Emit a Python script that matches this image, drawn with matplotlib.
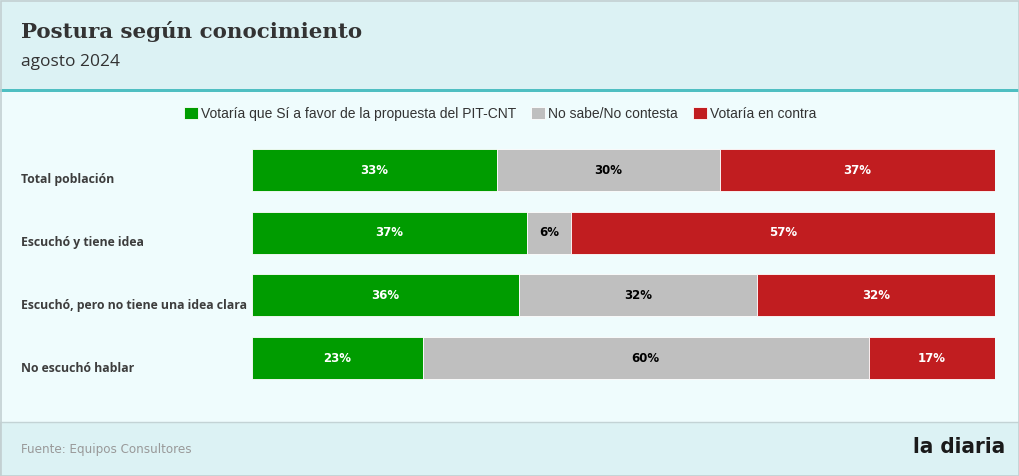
"""Postura según conocimiento - stacked horizontal bars."""

import matplotlib.pyplot as plt
from matplotlib.patches import Rectangle

categories = [
    "Total población",
    "Escuchó y tiene idea",
    "Escuchó, pero no tiene una idea clara",
    "No escuchó hablar",
]
series_names = [
    "Votaría que Sí a favor de la propuesta del PIT-CNT",
    "No sabe/No contesta",
    "Votaría en contra",
]
si_favor = [33, 37, 36, 23]
no_sabe = [30, 6, 32, 60]
en_contra = [37, 57, 32, 17]

colors = ["#009c00", "#bfbfbf", "#c11d20"]
label_colors = ["white", "black", "white"]

W, H = 1020, 476
fig = plt.figure(figsize=(W / 100, H / 100), dpi=100)
fig.patch.set_facecolor("#effcfd")

# Header and footer bands.
fig.patches.append(Rectangle((0, 1 - 89 / H), 1, 89 / H, transform=fig.transFigure,
                             facecolor="#dcf2f4", edgecolor="none", zorder=0))
fig.patches.append(Rectangle((0, 1 - 92 / H), 1, 3 / H, transform=fig.transFigure,
                             facecolor="#4fbfc2", edgecolor="none", zorder=1))
fig.patches.append(Rectangle((0, 0), 1, 54 / H, transform=fig.transFigure,
                             facecolor="#dcf2f4", edgecolor="#c3d3d5", linewidth=1, zorder=0))
fig.patches.append(Rectangle((0.5 / W, 0.5 / H), 1 - 1 / W, 1 - 1 / H, transform=fig.transFigure,
                             facecolor="none", edgecolor="#c3d0d2", linewidth=1.2, zorder=2))

fig.text(21 / W, 1 - 31 / H, "Postura según conocimiento", fontsize=15.4, fontweight="bold",
         family="DejaVu Serif", color="#333333", va="center", ha="left")
fig.text(21 / W, 1 - 62 / H, "agosto 2024", fontsize=12.5, family="Open Sans",
         color="#333333", va="center", ha="left")

# Bars.
spacing = 62.7
top = 170 - spacing / 2
ax = fig.add_axes([252 / W, 1 - (top + 4 * spacing) / H, 743 / W, 4 * spacing / H])
ax.set_facecolor("none")
ax.set_xlim(0, 100)
ax.set_ylim(3.5, -0.5)
ax.axis("off")

ypos = list(range(len(categories)))
left = [0] * len(categories)
handles = []
for values, name, color, tcolor in zip([si_favor, no_sabe, en_contra], series_names,
                                       colors, label_colors):
    bars = ax.barh(ypos, values, left=left, height=0.67, color=color, label=name,
                   edgecolor="white", linewidth=0.6)
    handles.append(bars)
    for y, v, l in zip(ypos, values, left):
        ax.text(l + v / 2, y, f"{v}%", ha="center", va="center", fontsize=8.5,
                fontweight="bold", color=tcolor, family="DejaVu Sans")
    left = [l + v for l, v in zip(left, values)]

for y, cat in zip(ypos, categories):
    fig.text(21 / W, 1 - (170 + y * spacing + 10) / H, cat, fontsize=8.8, fontweight="bold",
             family="Open Sans", color="#3d3d3d", va="center", ha="left")

fig.legend(handles=handles, labels=series_names, ncol=3, loc="center",
           bbox_to_anchor=(500 / W, 1 - 114 / H), frameon=False,
           handlelength=1.0, handleheight=1.0, handletextpad=0.2, columnspacing=1.1,
           prop={"family": "Liberation Sans", "size": 10}, labelcolor="#333333")

fig.text(21 / W, 1 - 449 / H, "Fuente: Equipos Consultores", fontsize=9.5,
         family="DejaVu Sans", fontstretch="condensed", color="#999999",
         va="center", ha="left")
fig.text(1005 / W, 1 - 447 / H, "la diaria", fontsize=16, fontweight="heavy",
         family="DejaVu Sans", fontstretch="condensed", color="#1a1a1a",
         va="center", ha="right")

fig.savefig("out.png", dpi=100, facecolor=fig.get_facecolor())
